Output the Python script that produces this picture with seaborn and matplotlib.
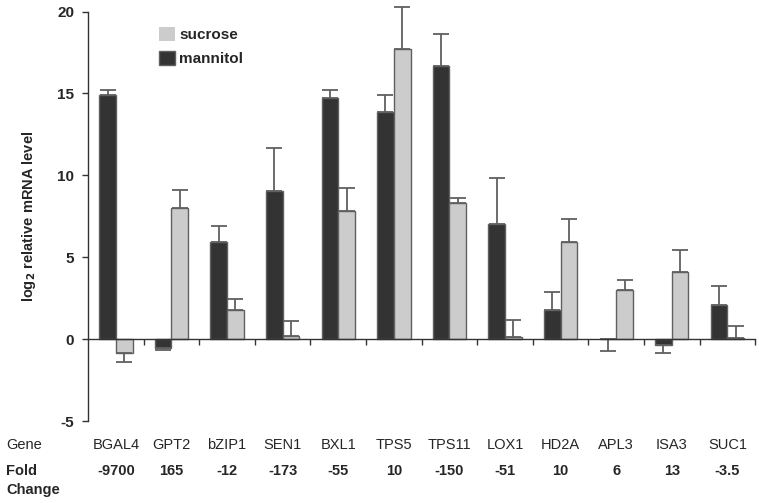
import numpy as np
import pandas as pd
import matplotlib
matplotlib.use("Agg")
import matplotlib.pyplot as plt
import matplotlib.transforms as mtransforms
from matplotlib.patches import Patch
import seaborn as sns

# data
genes = ['BGAL4', 'GPT2', 'bZIP1', 'SEN1', 'BXL1', 'TPS5', 'TPS11',
         'LOX1', 'HD2A', 'APL3', 'ISA3', 'SUC1']
fold_change = ['-9700', '165', '-12', '-173', '-55', '10', '-150',
               '-51', '10', '6', '13', '-3.5']
mannitol = [14.9, -0.55, 5.9, 9.05, 14.7, 13.85, 16.7, 7.0, 1.8, 0.0, -0.37, 2.1]
sucrose = [-0.82, 8.0, 1.75, 0.2, 7.8, 17.7, 8.3, 0.15, 5.9, 3.0, 4.1, 0.05]
# one-sided error bars: positive = drawn up, negative = drawn down
mannitol_err = [0.33, -0.13, 1.0, 2.65, 0.5, 1.05, 1.9, 2.85, 1.1, -0.7, -0.5, 1.12]
sucrose_err = [-0.55, 1.12, 0.68, 0.93, 1.4, 2.6, 0.3, 1.0, 1.46, 0.58, 1.35, 0.75]

df = pd.DataFrame({
    'gene': genes * 2,
    'treatment': ['mannitol'] * len(genes) + ['sucrose'] * len(genes),
    'value': mannitol + sucrose,
})

sns.set_style('white')
plt.rcParams['font.family'] = ['Liberation Sans', 'DejaVu Sans']

fig = plt.figure(figsize=(7.59, 5.03), dpi=100)
ax = fig.add_axes([0.116, 0.163, 0.879, 0.814])

palette = {'mannitol': '#333333', 'sucrose': '#cccccc'}
sns.barplot(data=df, x='gene', y='value', hue='treatment', order=genes,
            hue_order=['mannitol', 'sucrose'], palette=palette, width=0.6,
            errorbar=None, edgecolor='#606060', linewidth=1.0, ax=ax,
            legend=False, saturation=1)

# error bars
for cont, errs in zip(ax.containers, [mannitol_err, sucrose_err]):
    for bar, e in zip(cont, errs):
        x = bar.get_x() + bar.get_width() / 2
        h = bar.get_height()
        lower = [-e] if e < 0 else [0]
        upper = [e] if e > 0 else [0]
        eb = ax.errorbar(x, h, yerr=[lower, upper], fmt='none', ecolor='#606060',
                         elinewidth=1.3, capsize=6, capthick=1.3, zorder=1)
        for art in eb.lines[1] + eb.lines[2]:
            art.set_clip_on(False)

ax.set_ylim(-5, 20)
ax.set_xlim(-0.5, len(genes) - 0.5)
ax.set_yticks([-5, 0, 5, 10, 15, 20])
ax.set_yticklabels(['-5', '0', '5', '10', '15', '20'], fontweight='bold', fontsize=11)
ax.set_xticks(np.arange(len(genes)) + 0.5)
ax.set_xticklabels([])
ax.set_xlabel('')
ax.set_ylabel(r'log$_\mathbf{2}$ relative mRNA level', fontweight='bold', fontsize=10.5,
              labelpad=14)

for s in ['top', 'right']:
    ax.spines[s].set_visible(False)
ax.spines['bottom'].set_position(('data', 0))
for s in ['left', 'bottom']:
    ax.spines[s].set_color('#333333')
    ax.spines[s].set_linewidth(1.0)
ax.tick_params(axis='both', direction='out', length=4, width=1, color='#333333',
               bottom=True, left=True)
ax.tick_params(axis='y', pad=6)

# gene / fold change rows under the axis
trans = mtransforms.blended_transform_factory(ax.transData, fig.transFigure)
for i, (g, f) in enumerate(zip(genes, fold_change)):
    ax.text(i, 0.116, g, transform=trans, ha='center', va='center', fontsize=10.5)
    ax.text(i, 0.063, f, transform=trans, ha='center', va='center', fontsize=10.5,
            fontweight='bold')
fig.text(0.008, 0.116, 'Gene', ha='left', va='center', fontsize=10.5)
fig.text(0.008, 0.063, 'Fold', ha='left', va='center', fontsize=10.5, fontweight='bold')
fig.text(0.008, 0.026, 'Change', ha='left', va='center', fontsize=10.5, fontweight='bold')

handles = [Patch(facecolor='#cccccc', edgecolor='none', label='sucrose'),
           Patch(facecolor='#333333', edgecolor='#606060', label='mannitol')]
ax.legend(handles=handles, loc='upper left', bbox_to_anchor=(0.085, 0.995),
          frameon=False, prop={'weight': 'bold', 'size': 11},
          handlelength=1.05, handleheight=1.0, handletextpad=0.3,
          labelspacing=0.55)

fig.savefig('out.png', dpi=100)
